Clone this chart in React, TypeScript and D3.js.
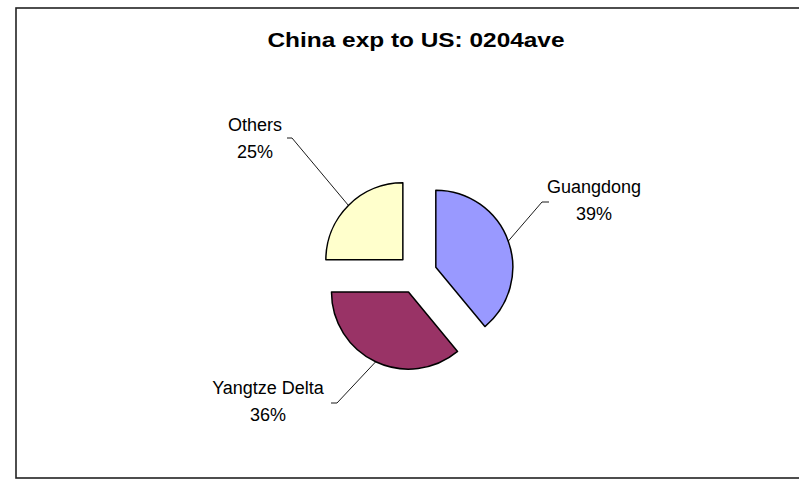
import React from "react";
import * as d3 from "d3";

const title = "China exp to US: 0204ave";
const categories = ["Guangdong", "Yangtze Delta", "Others"];
const shares = [39, 36, 25];
const colors = ["#9999FF", "#993366", "#FFFFCC"];

// layout (not data)
const W = 799;
const H = 486;
const cx = 417;
const cy = 274;
const R = 77;
const explode = 20;
const labelAnchors: [number, number][] = [
  [594, 193],
  [268, 394],
  [255, 131],
];
const leaderTicks: [number, number][][] = [
  [[549, 202], [542, 202]],
  [[331, 403], [337, 403]],
  [[287, 138], [292, 138]],
];

export default function App() {
  const pie = d3
    .pie<number>()
    .sort(null)
    .value((d) => d)
    .startAngle(0)
    .endAngle(2 * Math.PI);
  const arcs = pie(shares);
  const arcGen = d3.arc<d3.PieArcDatum<number>>().innerRadius(0).outerRadius(R);
  const total = d3.sum(shares);

  return (
    <svg
      width={W}
      height={H}
      style={{ position: "absolute", left: 0, top: 0, background: "#fff" }}
      fontFamily="Arial, 'Liberation Sans', sans-serif"
    >
      <rect x={16} y={8} width={800} height={470} fill="#fff" stroke="#222" strokeWidth={1.6} />
      <text x={416} y={47} textAnchor="middle" fontWeight="bold" fontSize={21} textLength={297} lengthAdjust="spacingAndGlyphs" fill="#000">
        {title}
      </text>
      {arcs.map((a, i) => {
        const mid = (a.startAngle + a.endAngle) / 2;
        const dx = Math.sin(mid) * explode;
        const dy = -Math.cos(mid) * explode;
        const ox = cx + dx;
        const oy = cy + dy;
        const ax = ox + Math.sin(mid) * R;
        const ay = oy - Math.cos(mid) * R;
        const [t0, t1] = leaderTicks[i];
        const [lx, ly] = labelAnchors[i];
        const pct = Math.round((shares[i] / total) * 100) + "%";
        return (
          <g key={categories[i]}>
            <path
              d={arcGen(a) || ""}
              transform={`translate(${ox},${oy})`}
              fill={colors[i]}
              stroke="#000"
              strokeWidth={1.5}
              strokeLinejoin="round"
            />
            <polyline
              points={`${t0[0]},${t0[1]} ${t1[0]},${t1[1]} ${ax},${ay}`}
              fill="none"
              stroke="#000"
              strokeWidth={0.9}
            />
            <text x={lx} y={ly} textAnchor="middle" fontSize={18} fill="#000">
              {categories[i]}
            </text>
            <text x={lx} y={ly + 26.5} textAnchor="middle" fontSize={18} fill="#000">
              {pct}
            </text>
          </g>
        );
      })}
    </svg>
  );
}
